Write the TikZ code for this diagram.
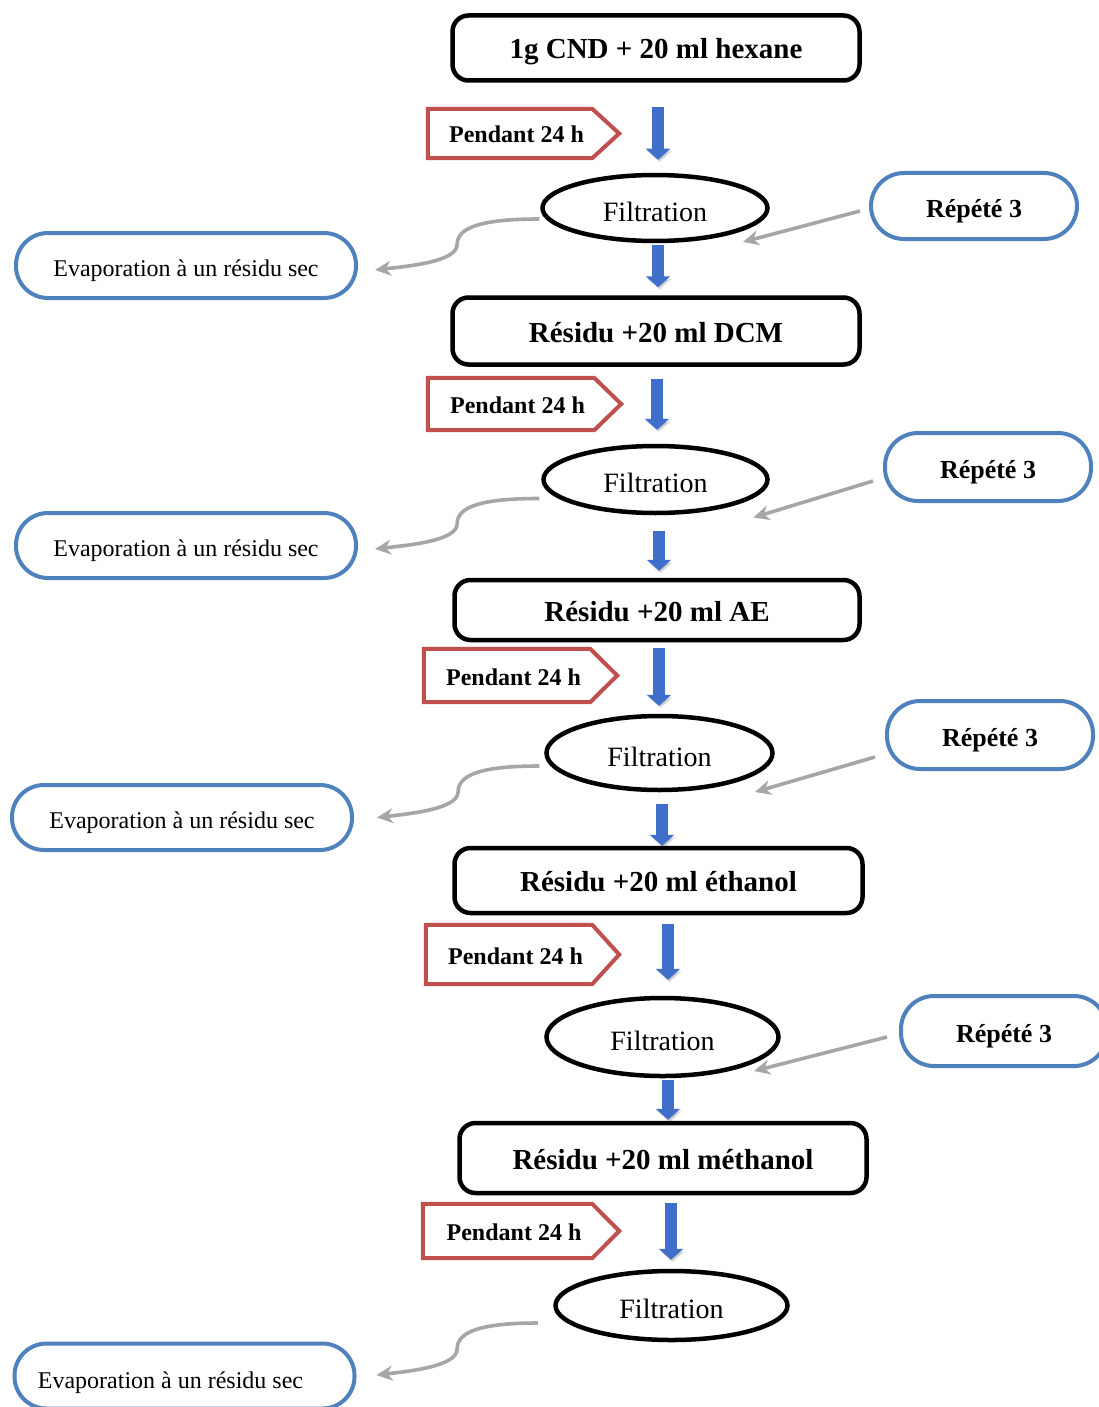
\documentclass[tikz,border=0pt]{standalone}
\usepackage{fontspec}
\setmainfont{Liberation Serif}
\usetikzlibrary{arrows.meta,calc,shapes.geometric}
\definecolor{pendred}{HTML}{C0504D}
\definecolor{repblue}{HTML}{4F81BD}
\definecolor{arrowblue}{HTML}{3F6FCB}
\definecolor{arrowgray}{HTML}{A6A6A6}
\begin{document}
\begin{tikzpicture}[x=1pt,y=-1pt,
  stepbox/.style={draw=black, line width=4.5pt, rounded corners=16pt, inner sep=0pt,
    text height=22pt, text depth=0pt,
    font=\bfseries\fontsize{29}{34}\selectfont},
  filt/.style={ellipse, draw=black, line width=4.5pt, inner sep=0pt,
    text height=26pt, text depth=0pt,
    font=\fontsize{28}{32}\selectfont},
  reppill/.style={draw=repblue, line width=4pt, rounded corners=33pt, inner sep=0pt,
    text height=22pt, text depth=0pt,
    minimum width=206pt, font=\bfseries\fontsize{26}{30}\selectfont},
  evappill/.style={draw=repblue, line width=4pt, rounded corners=32pt, inner sep=0pt,
    text height=21pt, text depth=0pt,
    minimum width=340pt, minimum height=65pt, font=\fontsize{24}{28}\selectfont},
  pendnode/.style={inner sep=0pt, text height=19pt, text depth=0pt,
    font=\bfseries\fontsize{24}{28}\selectfont},
  pendline/.style={draw=pendred, line width=4pt, line join=miter},
  bluearrow/.style={draw=arrowblue, line width=12pt, -{Triangle[width=24pt,length=11pt]},
    preaction={draw=black, opacity=0.12, transform canvas={xshift=1.5pt,yshift=-2.5pt}}},
  grayarrow/.style={draw=arrowgray, line width=3.6pt, -{Stealth[length=16pt,width=15pt]}}
]
\clip (0,0) rectangle (1099,1407);
\fill[white] (0,0) rectangle (1099,1407);

% main boxes
\node[stepbox, minimum width=407pt, minimum height=65pt] (b1) at (656,48) {1g CND + 20 ml hexane};
\node[stepbox, minimum width=407pt, minimum height=67pt] (b2) at (656,331) {Résidu +20 ml DCM};
\node[stepbox, minimum width=405pt, minimum height=60pt] (b3) at (657,610) {Résidu +20 ml AE};
\node[stepbox, minimum width=408pt, minimum height=65pt] (b4) at (658.5,880.5) {Résidu +20 ml éthanol};
\node[stepbox, minimum width=407pt, minimum height=70pt] (b5) at (663,1158) {Résidu +20 ml méthanol};

% filtrations
\node[filt, minimum width=225pt, minimum height=66pt] (f1) at (655,208) {Filtration};
\node[filt, minimum width=224pt, minimum height=67pt] (f2) at (655.5,479.5) {Filtration};
\node[filt, minimum width=226pt, minimum height=74pt] (f3) at (659.5,753) {Filtration};
\node[filt, minimum width=232pt, minimum height=78pt] (f4) at (662.5,1037) {Filtration};
\node[filt, minimum width=232pt, minimum height=69pt] (f5) at (671.5,1305.5) {Filtration};

% repete
\node[reppill, minimum height=66pt] (r1) at (974,206) {Répété 3};
\node[reppill, minimum height=68pt] (r2) at (988,467) {Répété 3};
\node[reppill, minimum height=68pt] (r3) at (990,735) {Répété 3};
\node[reppill, minimum height=70pt] (r4) at (1004,1031) {Répété 3};

% evaporation
\node[evappill] (e1) at (186,265.5) {Evaporation à un résidu sec};
\node[evappill] (e2) at (186,545.5) {Evaporation à un résidu sec};
\node[evappill] (e3) at (182,817.5) {Evaporation à un résidu sec};
\node[evappill, text height=24pt] (e5) at (184.5,1376) {\hspace*{-28pt}Evaporation à un résidu sec};

% pendant
\node[pendnode, minimum width=191pt, minimum height=49pt] (p1) at (523.5,133.5) {\hspace*{-14pt}Pendant 24 h};
\node[pendnode, minimum width=193pt, minimum height=52pt] (p2) at (524.5,404) {\hspace*{-14pt}Pendant 24 h};
\node[pendnode, minimum width=193pt, minimum height=53pt] (p3) at (520.5,675.5) {\hspace*{-14pt}Pendant 24 h};
\node[pendnode, minimum width=193pt, minimum height=59pt] (p4) at (522.5,954.5) {\hspace*{-14pt}Pendant 24 h};
\node[pendnode, minimum width=196pt, minimum height=54pt] (p5) at (521,1231) {\hspace*{-14pt}Pendant 24 h};
\foreach \p in {p1,p2,p3,p4,p5}
  \draw[pendline] (\p.north west) -- ($(\p.north east)+(-27,0)$) -- (\p.east)
    -- ($(\p.south east)+(-27,0)$) -- (\p.south west) -- cycle;

% blue flow arrows
\draw[bluearrow] ($(b1.south)+(2,24)$) -- ($(f1.north)+(3,-13)$);
\draw[bluearrow] ($(f1.south)+(3,2)$) -- ($(b2.north)+(2,-8)$);
\draw[bluearrow] ($(b2.south)+(1,12)$) -- ($(f2.north)+(1.5,-14)$);
\draw[bluearrow] ($(f2.south)+(3.5,16)$) -- ($(b3.north)+(2,-7)$);
\draw[bluearrow] ($(b3.south)+(2,6)$) -- ($(f3.north)+(-0.5,-8)$);
\draw[bluearrow] ($(f3.south)+(2.5,12)$) -- ($(b4.north)+(3.5,0)$);
\draw[bluearrow] ($(b4.south)+(9.5,9)$) -- ($(f4.north)+(5.5,-16)$);
\draw[bluearrow] ($(f4.south)+(5.5,2)$) -- ($(b5.north)+(5,-1)$);
\draw[bluearrow] ($(b5.south)+(8,8)$) -- ($(f5.north)+(-0.5,-9)$);

% repete arrows
\draw[grayarrow] ($(r1.west)+(-9,5)$) -- ($(f1.center)+(88,34)$);
\draw[grayarrow] ($(r2.west)+(-10,14)$) -- ($(f2.center)+(98,38)$);
\draw[grayarrow] ($(r3.west)+(-10,22)$) -- ($(f3.center)+(95.5,39)$);
\draw[grayarrow] ($(r4.west)+(-12,6)$) -- ($(f4.center)+(91.5,34)$);

% evaporation curves
\coordinate (s1) at ($(f1.west)+(-1,11)$);
\coordinate (t1) at ($(e1.east)+(17,4.5)$);
\coordinate (s2) at ($(f2.west)+(-2,19)$);
\coordinate (t2) at ($(e2.east)+(17,3.5)$);
\coordinate (s3) at ($(f3.west)+(-5,13)$);
\coordinate (t3) at ($(e3.east)+(23,0)$);
\coordinate (s5) at ($(f5.west)+(-15.5,17.5)$);
\coordinate (t5) at ($(e5.east)+(20,-1)$);
\foreach \i in {1,2,3,5}
  \draw[grayarrow] (s\i) .. controls +(-58,0) and +(0,-17) .. ($(s\i)!0.5!(t\i)$)
    .. controls +(0,17) and +(35,-4) .. (t\i);
\end{tikzpicture}
\end{document}
